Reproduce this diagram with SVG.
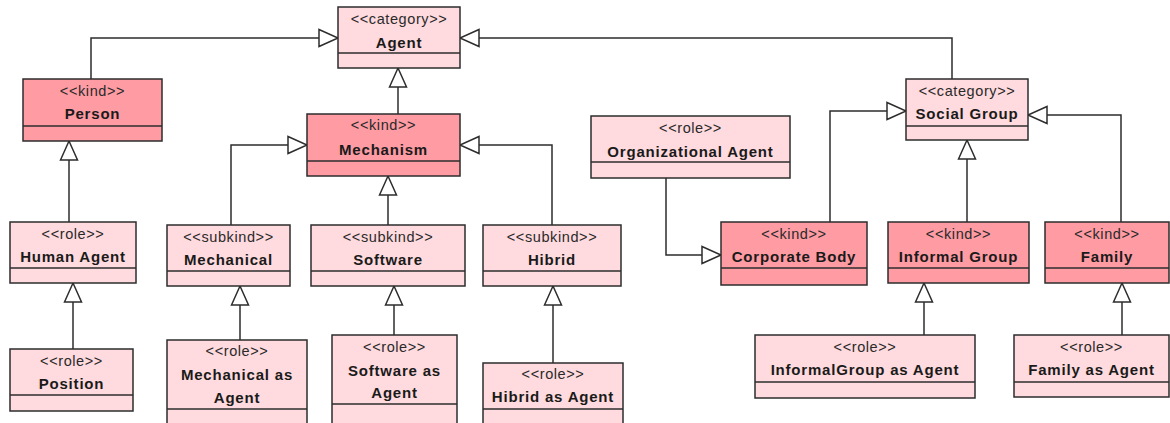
<svg xmlns="http://www.w3.org/2000/svg" width="1170" height="423" viewBox="0 0 1170 423">
<style>
.box{stroke:#2d2d2d;stroke-width:1.5}
.light{fill:#FFDADE}
.dark{fill:#FF9BA3}
.div{stroke:#2d2d2d;stroke-width:1.5}
.st{font-family:"Liberation Sans",Arial,sans-serif;font-size:14.5px;fill:#2a2a2a;text-anchor:middle;letter-spacing:0.6px}
.nm{font-family:"Liberation Sans",Arial,sans-serif;font-size:15px;font-weight:bold;fill:#1a1a1a;text-anchor:middle;letter-spacing:0.8px}
.edge{fill:none;stroke:#2d2d2d;stroke-width:1.5;marker-end:url(#gen)}
</style>
<defs>
<marker id="gen" markerUnits="userSpaceOnUse" viewBox="0 0 22 20" refX="20" refY="10" markerWidth="22" markerHeight="20" orient="auto">
<path d="M1,1.5 L20,10 L1,18.5 Z" fill="#fff" stroke="#2d2d2d" stroke-width="1.5"/>
</marker>
</defs>
<rect width="1170" height="423" fill="#fff"/>
<g id="connectors">
<path class="edge" d="M91,79 V38 H338"/>
<path class="edge" d="M398,114 V68"/>
<path class="edge" d="M952,79 V38 H460"/>
<path class="edge" d="M69,222 V141"/>
<path class="edge" d="M73,349 V283"/>
<path class="edge" d="M231,225 V145 H307"/>
<path class="edge" d="M388,225 V176"/>
<path class="edge" d="M552,225 V145 H460"/>
<path class="edge" d="M240,340 V286"/>
<path class="edge" d="M394,335 V286"/>
<path class="edge" d="M553,363 V286"/>
<path class="edge" d="M666,178 V255 H721"/>
<path class="edge" d="M830,222 V111 H906"/>
<path class="edge" d="M967,222 V140"/>
<path class="edge" d="M1121,222 V115 H1028"/>
<path class="edge" d="M924,335 V283"/>
<path class="edge" d="M1122,335 V283"/>
</g>
<g id="agent"><rect class="box light" x="338" y="7" width="122" height="61"/><line class="div" x1="338" y1="53" x2="460" y2="53"/><text class="st" x="399" y="24">&lt;&lt;category&gt;&gt;</text><text class="nm" x="399" y="48">Agent</text></g>
<g id="person"><rect class="box dark" x="23" y="79" width="139" height="62"/><line class="div" x1="23" y1="126" x2="162" y2="126"/><text class="st" x="92.5" y="96">&lt;&lt;kind&gt;&gt;</text><text class="nm" x="92.5" y="119">Person</text></g>
<g id="mechanism"><rect class="box dark" x="307" y="114" width="153" height="62"/><line class="div" x1="307" y1="161" x2="460" y2="161"/><text class="st" x="383.5" y="130">&lt;&lt;kind&gt;&gt;</text><text class="nm" x="383.5" y="155">Mechanism</text></g>
<g id="organizational-agent"><rect class="box light" x="591" y="116" width="199" height="62"/><line class="div" x1="591" y1="162" x2="790" y2="162"/><text class="st" x="690.5" y="133">&lt;&lt;role&gt;&gt;</text><text class="nm" x="690.5" y="157">Organizational Agent</text></g>
<g id="social-group"><rect class="box light" x="906" y="79" width="122" height="61"/><line class="div" x1="906" y1="126" x2="1028" y2="126"/><text class="st" x="967" y="96">&lt;&lt;category&gt;&gt;</text><text class="nm" x="967" y="119">Social Group</text></g>
<g id="human-agent"><rect class="box light" x="10" y="222" width="126" height="61"/><line class="div" x1="10" y1="268" x2="136" y2="268"/><text class="st" x="73" y="239">&lt;&lt;role&gt;&gt;</text><text class="nm" x="73" y="262">Human Agent</text></g>
<g id="mechanical"><rect class="box light" x="167" y="225" width="123" height="61"/><line class="div" x1="167" y1="271" x2="290" y2="271"/><text class="st" x="228.5" y="242">&lt;&lt;subkind&gt;&gt;</text><text class="nm" x="228.5" y="265">Mechanical</text></g>
<g id="software"><rect class="box light" x="311" y="225" width="154" height="61"/><line class="div" x1="311" y1="271" x2="465" y2="271"/><text class="st" x="388" y="242">&lt;&lt;subkind&gt;&gt;</text><text class="nm" x="388" y="265">Software</text></g>
<g id="hibrid"><rect class="box light" x="483" y="225" width="138" height="61"/><line class="div" x1="483" y1="271" x2="621" y2="271"/><text class="st" x="552" y="242">&lt;&lt;subkind&gt;&gt;</text><text class="nm" x="552" y="265">Hibrid</text></g>
<g id="corporate-body"><rect class="box dark" x="721" y="222" width="146" height="63"/><line class="div" x1="721" y1="268" x2="867" y2="268"/><text class="st" x="794" y="239">&lt;&lt;kind&gt;&gt;</text><text class="nm" x="794" y="262">Corporate Body</text></g>
<g id="informal-group"><rect class="box dark" x="888" y="222" width="141" height="61"/><line class="div" x1="888" y1="268" x2="1029" y2="268"/><text class="st" x="958.5" y="239">&lt;&lt;kind&gt;&gt;</text><text class="nm" x="958.5" y="262">Informal Group</text></g>
<g id="family"><rect class="box dark" x="1045" y="222" width="124" height="61"/><line class="div" x1="1045" y1="268" x2="1169" y2="268"/><text class="st" x="1107" y="239">&lt;&lt;kind&gt;&gt;</text><text class="nm" x="1107" y="262">Family</text></g>
<g id="position"><rect class="box light" x="10" y="349" width="123" height="62"/><line class="div" x1="10" y1="395" x2="133" y2="395"/><text class="st" x="71.5" y="366">&lt;&lt;role&gt;&gt;</text><text class="nm" x="71.5" y="389">Position</text></g>
<g id="mechanical-as-agent"><rect class="box light" x="167" y="340" width="140" height="95"/><line class="div" x1="167" y1="409" x2="307" y2="409"/><text class="st" x="237" y="356">&lt;&lt;role&gt;&gt;</text><text class="nm" x="237" y="380">Mechanical as</text><text class="nm" x="237" y="403">Agent</text></g>
<g id="software-as-agent"><rect class="box light" x="332" y="335" width="125" height="100"/><line class="div" x1="332" y1="404" x2="457" y2="404"/><text class="st" x="394.5" y="352">&lt;&lt;role&gt;&gt;</text><text class="nm" x="394.5" y="376">Software as</text><text class="nm" x="394.5" y="398">Agent</text></g>
<g id="hibrid-as-agent"><rect class="box light" x="483" y="363" width="140" height="72"/><line class="div" x1="483" y1="409" x2="623" y2="409"/><text class="st" x="553" y="379">&lt;&lt;role&gt;&gt;</text><text class="nm" x="553" y="402">Hibrid as Agent</text></g>
<g id="informalgroup-as-agent"><rect class="box light" x="755" y="335" width="220" height="63"/><line class="div" x1="755" y1="382" x2="975" y2="382"/><text class="st" x="865" y="352">&lt;&lt;role&gt;&gt;</text><text class="nm" x="865" y="375">InformalGroup as Agent</text></g>
<g id="family-as-agent"><rect class="box light" x="1014" y="335" width="155" height="62"/><line class="div" x1="1014" y1="382" x2="1169" y2="382"/><text class="st" x="1091.5" y="352">&lt;&lt;role&gt;&gt;</text><text class="nm" x="1091.5" y="375">Family as Agent</text></g>
</svg>
